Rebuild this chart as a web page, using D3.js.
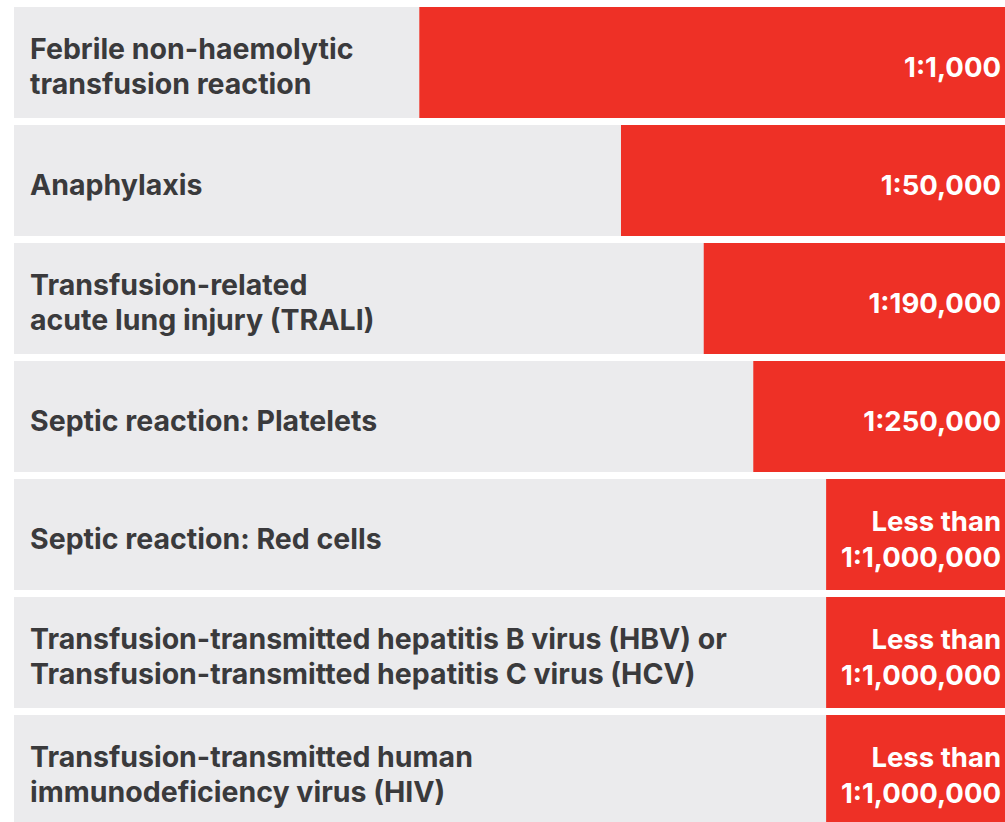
<!DOCTYPE html>
<html>
<head>
<meta charset="utf-8">
<script src="https://cdn.jsdelivr.net/npm/d3@7"></script>
<style>
  body { margin: 0; background: #fff; }
  svg { display: block; }
</style>
</head>
<body>
<svg id="chart" width="1005" height="822"></svg>
<script>
// categories (one entry per line of the label)
var categories = [
    ["Febrile non-haemolytic", "transfusion reaction"],
    ["Anaphylaxis"],
    ["Transfusion-related", "acute lung injury (TRALI)"],
    ["Septic reaction: Platelets"],
    ["Septic reaction: Red cells"],
    ["Transfusion-transmitted hepatitis B virus (HBV) or", "Transfusion-transmitted hepatitis C virus (HCV)"],
    ["Transfusion-transmitted human", "immunodeficiency virus (HIV)"]
];

// risk labels shown in the bars
var riskLabels = [
    ["1:1,000"],
    ["1:50,000"],
    ["1:190,000"],
    ["1:250,000"],
    ["Less than", "1:1,000,000"],
    ["Less than", "1:1,000,000"],
    ["Less than", "1:1,000,000"]
];

// bar length, % of the row
var barShare = [59.1, 38.75, 30.4, 25.4, 18.05, 18.05, 18.05];

var W = 1005;
var left = 14;

var svg = d3.select('#chart');

var y = d3.scaleBand()
    .domain(d3.range(categories.length))
    .range([7, 826])
    .paddingInner(7 / 118)
    .paddingOuter(0);

var x = d3.scaleLinear()
    .domain([0, 100])
    .range([0, W - left]);

var rows = svg.selectAll('g.row')
    .data(categories)
    .enter()
    .append('g')
    .attr('class', 'row')
    .attr('transform', function (d, i) { return 'translate(0,' + y(i) + ')'; });

// grey background of each row
rows.append('rect')
    .attr('x', left)
    .attr('width', W - left)
    .attr('height', y.bandwidth())
    .attr('fill', '#ebebed');

// red bar, anchored on the right
rows.append('rect')
    .attr('x', function (d, i) { return W - x(barShare[i]); })
    .attr('width', function (d, i) { return x(barShare[i]); })
    .attr('height', y.bandwidth())
    .attr('fill', '#ee3026');

var mid = y.bandwidth() / 2 + 4;

function lineY(lines, step, cap) {
    // baseline of each line so the block sits centred
    return function (l, j) {
        return mid + cap / 2 - (lines.length - 1) * step / 2 + j * step;
    };
}

rows.each(function (d, i) {
    var g = d3.select(this);

    g.selectAll('text.label')
        .data(d)
        .enter()
        .append('text')
        .attr('class', 'label')
        .attr('x', 30)
        .attr('y', lineY(d, 35, 20.5))
        .style('font', "700 28.5px Inter, 'Open Sans', sans-serif")
        .attr('fill', '#3a3a3c')
        .text(function (l) { return l; });

    var r = riskLabels[i];
    g.selectAll('text.risk')
        .data(r)
        .enter()
        .append('text')
        .attr('class', 'risk')
        .attr('x', 1001)
        .attr('y', lineY(r, 36, 20))
        .attr('text-anchor', 'end')
        .style('font', "700 27.5px Inter, 'Open Sans', sans-serif")
        .attr('fill', '#fff')
        .text(function (l) { return l; });
});
</script>
</body>
</html>
